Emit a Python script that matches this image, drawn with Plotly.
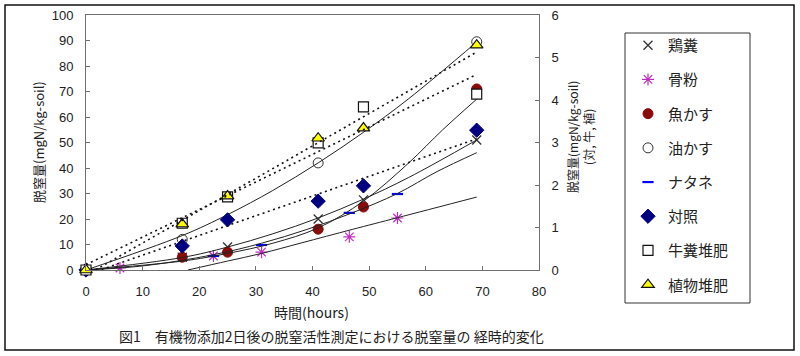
import plotly.graph_objects as go
import numpy as np

# ---------------- data ----------------
names = ["鶏糞", "骨粉", "魚かす", "油かす", "ナタネ", "対照", "牛糞堆肥", "植物堆肥"]

x_main = [0, 17, 25, 41, 49, 69]
x_abura = [0, 17, 41, 69]
x_alt = [0, 6, 22.5, 31, 46.5, 55]
x_natane = [0, 22.5, 31, 46.5, 55]

y_keifun = [0, 5, 9, 20, 27.5, 51]
y_kotsufun = [0, 0.8, 5.5, 7, 13, 20.4]
y_gyokasu = [0, 5, 7, 16, 24.7, 71]
y_abura = [0, 12, 42, 89.5]
y_natane = [0, 5.5, 9.8, 22.4, 29.8]
# right axis series (対, 牛, 植)
y_taisho = [0, 0.565, 1.18, 1.62, 1.98, 3.29]
y_gyufun = [0, 1.1, 1.72, 2.99, 3.84, 4.14]
y_shokubutsu = [0, 1.08, 1.74, 3.1, 3.34, 5.29]

# trend lines of left-axis series
tx_keifun = [0, 17, 25, 33, 41, 49, 57, 69]
ty_keifun = [0, 4.9, 9.0, 14.2, 20.4, 27.8, 36.3, 51.0]
tx_gyokasu = [0, 17, 25, 33, 41, 49, 57, 63, 69]
ty_gyokasu = [0, 3.5, 6.5, 10.5, 16.5, 27, 42, 55, 67]
tx_abura = [0, 17, 25, 33, 41, 49, 57, 69]
ty_abura = [0, 13.5, 21.7, 31.2, 42, 54, 67.2, 89.4]
tx_natane = [0, 10, 22.5, 31, 39, 47, 55, 62, 69]
ty_natane = [0, 1.6, 6.0, 10.5, 15.9, 22.4, 30.0, 38.6, 46.0]
tx_kotsufun = [18, 25, 31, 38, 47, 55, 69]
ty_kotsufun = [0, 3.5, 6.5, 10.6, 15.9, 20.5, 28.6]

x_ticks = list(range(0, 81, 10))
y_ticks = list(range(0, 101, 10))
y2_ticks = list(range(0, 7))

# ---------------- figure ----------------
W, H = 800, 356
L, R, T, B = 86, 261, 15, 86
PW, PH = W - L - R, H - T - B


def px(xp):
    return (xp - L) / PW


def py(yp):
    return (H - B - yp) / PH


fig = go.Figure()

styles = {
    "鶏糞": dict(symbol="x-thin", size=9, color="#333333", line=dict(width=1.3, color="#333333")),
    "骨粉": dict(symbol="asterisk", size=10, color="#C030C0", line=dict(width=1.2, color="#C030C0")),
    "魚かす": dict(symbol="circle", size=10, color="#8B0A0A", line=dict(width=1, color="#8B0A0A")),
    "油かす": dict(symbol="circle-open", size=10, color="#333333", line=dict(width=1, color="#333333")),
    "ナタネ": dict(symbol="line-ew", size=8, color="#0000FF", line=dict(width=2.2, color="#0000FF")),
    "対照": dict(symbol="diamond", size=11, color="#000080", line=dict(width=1, color="#000080")),
    "牛糞堆肥": dict(symbol="square", size=10, color="white", line=dict(width=1.2, color="#111111")),
    "植物堆肥": dict(symbol="triangle-up", size=11, color="#FFFF00", line=dict(width=1.2, color="#111111")),
}

series = [
    ("鶏糞", x_main, y_keifun, "y"),
    ("骨粉", x_alt, y_kotsufun, "y"),
    ("魚かす", x_main, y_gyokasu, "y"),
    ("油かす", x_abura, y_abura, "y"),
    ("ナタネ", x_natane, y_natane, "y"),
    ("対照", x_main, y_taisho, "y2"),
    ("牛糞堆肥", x_main, y_gyufun, "y2"),
    ("植物堆肥", x_main, y_shokubutsu, "y2"),
]

for name, xs, ys, ax in series:
    fig.add_trace(go.Scatter(
        x=xs, y=ys, mode="markers", name=name, yaxis=ax,
        marker=styles[name], legendgroup=name, cliponaxis=False,
    ))

# solid trend lines (left axis)
for xs, ys in [(tx_keifun, ty_keifun), (tx_gyokasu, ty_gyokasu), (tx_abura, ty_abura),
               (tx_natane, ty_natane), (tx_kotsufun, ty_kotsufun)]:
    fig.add_trace(go.Scatter(
        x=xs, y=ys, mode="lines", line=dict(color="#222222", width=1, shape="spline"),
        showlegend=False, hoverinfo="skip", yaxis="y",
    ))

# dotted linear trend lines (right axis), fitted from the series values
for ys in [y_taisho, y_gyufun, y_shokubutsu]:
    k, b = np.polyfit(x_main, ys, 1)
    xx = [min(x_main), max(x_main)]
    fig.add_trace(go.Scatter(
        x=xx, y=[k * v + b for v in xx], mode="lines",
        line=dict(color="#111111", width=1.6, dash="2px,3.5px"),
        showlegend=False, hoverinfo="skip", yaxis="y2",
    ))

axis_common = dict(
    showgrid=False, zeroline=False, showline=True, linecolor="#707070", linewidth=1,
    ticks="inside", ticklen=4, tickcolor="#707070",
    tickfont=dict(family="Liberation Sans, Arial", size=13, color="#222222"),
    ticklabelstandoff=9, automargin=False,
)

fig.update_layout(
    width=W, height=H, autosize=False,
    margin=dict(l=L, r=R, t=T, b=B, pad=0, autoexpand=False),
    paper_bgcolor="white", plot_bgcolor="white",
    showlegend=True,
    legend=dict(
        xref="container", yref="container",
        x=628 / W, y=1 - 29 / H, xanchor="left", yanchor="top",
        font=dict(family="Noto Sans CJK JP", size=15, color="#222222"),
        bgcolor="rgba(0,0,0,0)", borderwidth=0,
        tracegroupgap=11.7, itemsizing="trace", maxheight=345,
    ),
    xaxis=dict(range=[0, 80], tickvals=x_ticks, mirror=True, **axis_common),
    yaxis=dict(range=[0, 100], tickvals=y_ticks, mirror=False, **axis_common),
    yaxis2=dict(range=[0, 6], tickvals=y2_ticks, overlaying="y", side="right", **axis_common),
)

# axis titles and caption
ann_font = dict(family="Noto Sans CJK JP", color="#222222")
fig.add_annotation(x=px(38), y=py(142), xref="paper", yref="paper", text="脱窒量(mgN/kg-soil)",
                   textangle=-90, showarrow=False, xanchor="center", yanchor="middle",
                   font=dict(size=13, **ann_font))
fig.add_annotation(x=px(580), y=py(137), xref="paper", yref="paper",
                   text="脱窒量(mgN/kg-soil)<br>(対, 牛, 植)",
                   textangle=-90, showarrow=False, xanchor="center", yanchor="middle",
                   font=dict(size=12, **ann_font))
fig.add_annotation(x=px(311), y=py(312), xref="paper", yref="paper", text="時間(hours)",
                   showarrow=False, xanchor="center", yanchor="middle",
                   font=dict(size=14, **ann_font))
fig.add_annotation(x=px(331), y=py(336), xref="paper", yref="paper",
                   text="図1　有機物添加2日後の脱窒活性測定における脱窒量の 経時的変化",
                   showarrow=False, xanchor="center", yanchor="middle",
                   font=dict(size=14, **ann_font))

# outer frame and legend box
fig.add_shape(type="rect", xref="paper", yref="paper",
              x0=px(5), x1=px(794), y0=py(350), y1=py(5),
              line=dict(color="#111111", width=1.5), fillcolor="rgba(0,0,0,0)", layer="below")
fig.add_shape(type="rect", xref="paper", yref="paper",
              x0=px(625), x1=px(750), y0=py(303), y1=py(33),
              line=dict(color="#333333", width=1), fillcolor="rgba(0,0,0,0)", layer="below")

fig.write_html("out.html", config={"displayModeBar": False},
               post_script="document.body.style.margin='0px';document.body.style.overflow='hidden';")
